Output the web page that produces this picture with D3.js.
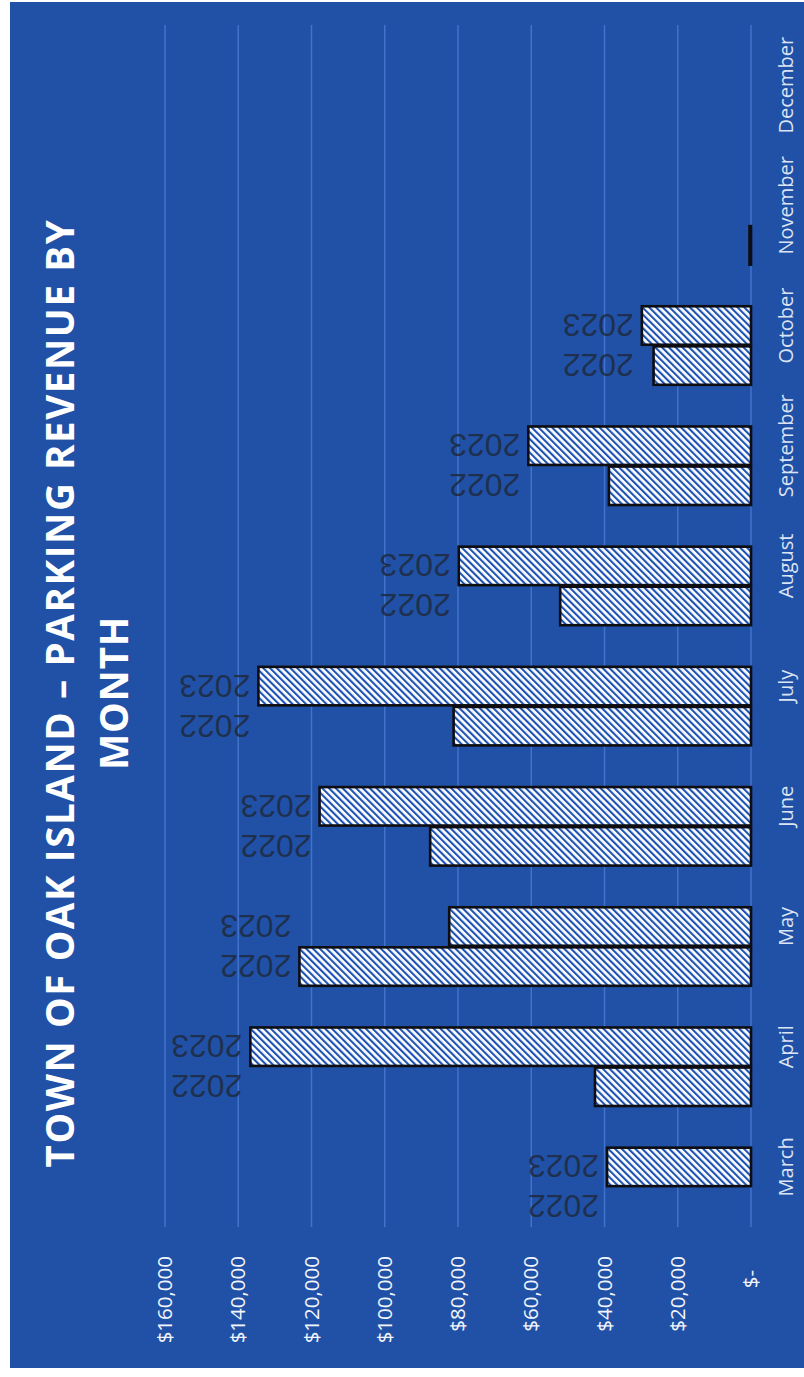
<!DOCTYPE html>
<html>
<head>
<meta charset="utf-8">
<script src="https://cdn.jsdelivr.net/npm/d3@7"></script>
<style>
  html, body { margin: 0; padding: 0; background: #ffffff; }
  svg { display: block; }
</style>
</head>
<body>
<svg id="chart" width="804" height="1377"></svg>
<script>
// ---- data ----
const months = ["March","April","May","June","July","August","September","October","November","December"];
const rev2022 = [null, 42600, 123300, 87600, 81200, 52100, 38800, 26600, 400, null];
const rev2023 = [39300, 136700, 82400, 117800, 134500, 79800, 60800, 29800, null, null];
const seriesNames = ["2022", "2023"];
const labelledMonths = ["March","April","May","June","July","August","September","October"];
const valueTicks = [0, 20000, 40000, 60000, 80000, 100000, 120000, 140000, 160000];
const titleLines = ["TOWN OF OAK ISLAND \u2013 PARKING REVENUE BY", "MONTH"];

// ---- layout (chart is drawn in its own frame, then turned a quarter turn) ----
const PAGE_W = 804, PAGE_H = 1377;
const svg = d3.select("#chart");
const g = svg.append("g").attr("transform", `translate(0,${PAGE_H}) rotate(-90)`);
// in g: horizontal axis u runs 0..1377, vertical v runs 0..804

const series = seriesNames.map((name, i) => ({ name, values: i === 0 ? rev2022 : rev2023 }));

const x0 = d3.scaleBand().domain(months).range([150, 1352]).padding(0);
// third slot stays empty (space reserved in the original chart)
const x1 = d3.scaleBand().domain(["2022", "2023", "_"]).range([0, x0.bandwidth()])
  .paddingInner(0.04).paddingOuter(0.02);
const y = d3.scaleLinear().domain([0, 160000]).range([751, 165]);

// pattern
const defs = svg.append("defs");
const pat = defs.append("pattern").attr("id", "hatch")
  .attr("patternUnits", "userSpaceOnUse")
  .attr("width", 4.8).attr("height", 4.8)
  .attr("patternTransform", "rotate(45)");
pat.append("rect").attr("width", 4.8).attr("height", 4.8).attr("fill", "#ffffff");
pat.append("rect").attr("width", 2.1).attr("height", 4.8).attr("fill", "#1d52b0");

// background
g.append("rect").attr("x", 9).attr("y", 10).attr("width", 1366).attr("height", 794)
  .attr("fill", "#2051a6");

// gridlines
g.append("g").selectAll("line").data(valueTicks).join("line")
  .attr("x1", 150).attr("x2", 1352)
  .attr("y1", d => y(d)).attr("y2", d => y(d))
  .attr("stroke", "#3f73cc").attr("stroke-width", 1.5);

// value axis
const yAxis = d3.axisLeft(y).tickValues(valueTicks).tickSize(0).tickPadding(0)
  .tickFormat(d => d === 0 ? "$-" : "$" + d3.format(",")(d));
const ya = g.append("g").attr("transform", "translate(121,0)").call(yAxis);
ya.select(".domain").remove();
ya.selectAll("text")
  .attr("fill", "#f2f5fb").attr("font-family", "'Open Sans', sans-serif")
  .attr("font-size", 20.5)
  .attr("dx", d => d === 0 ? -14 : 0);

// category axis
const xAxis = d3.axisBottom(x0).tickSize(0).tickPadding(0);
const xa = g.append("g").attr("transform", "translate(0,779)").call(xAxis);
xa.select(".domain").remove();
xa.selectAll(".tick").attr("transform", d => `translate(${x0(d) + x1("2023") + x1.bandwidth() / 2},0)`);
xa.selectAll("text")
  .attr("fill", "#dbe4f4").attr("font-family", "'Open Sans', sans-serif")
  .attr("font-size", 20).attr("dy", "0.71em");

// bars
series.forEach(s => {
  const data = months.map((m, i) => ({ m, v: s.values[i] })).filter(d => d.v != null);
  g.append("g").selectAll("rect").data(data).join("rect")
    .attr("x", d => x0(d.m) + x1(s.name))
    .attr("y", d => y(d.v))
    .attr("width", x1.bandwidth())
    .attr("height", d => y(0) - y(d.v))
    .attr("fill", "url(#hatch)")
    .attr("stroke", "#0d0d12").attr("stroke-width", 2.6);
});

// year annotations above each pair of bars
labelledMonths.forEach(m => {
  const i = months.indexOf(m);
  const top = d3.max(series, s => s.values[i] == null ? 0 : s.values[i]);
  seriesNames.forEach(name => {
    const cx = x0(m) + x1(name) + x1.bandwidth() / 2;
    g.append("text")
      .attr("transform", `translate(${cx},${y(top) - 8}) rotate(-90)`)
      .attr("text-anchor", "start").attr("dy", "0.36em")
      .attr("font-family", "'Liberation Sans', Arial, sans-serif")
      .attr("font-size", 32).attr("fill", "#1f2a40").attr("fill-opacity", 0.85)
      .text(name);
  });
});

// title
g.append("g").selectAll("text").data(titleLines).join("text")
  .attr("x", 684).attr("y", (d, i) => 74 + i * 54)
  .attr("text-anchor", "middle")
  .attr("font-family", "'Open Sans', sans-serif").attr("font-weight", 700)
  .attr("font-size", 38.5).attr("fill", "#ffffff")
  .attr("letter-spacing", (d, i) => i === 0 ? 1.6 : 0.8)
  .text(d => d);
</script>
</body>
</html>
